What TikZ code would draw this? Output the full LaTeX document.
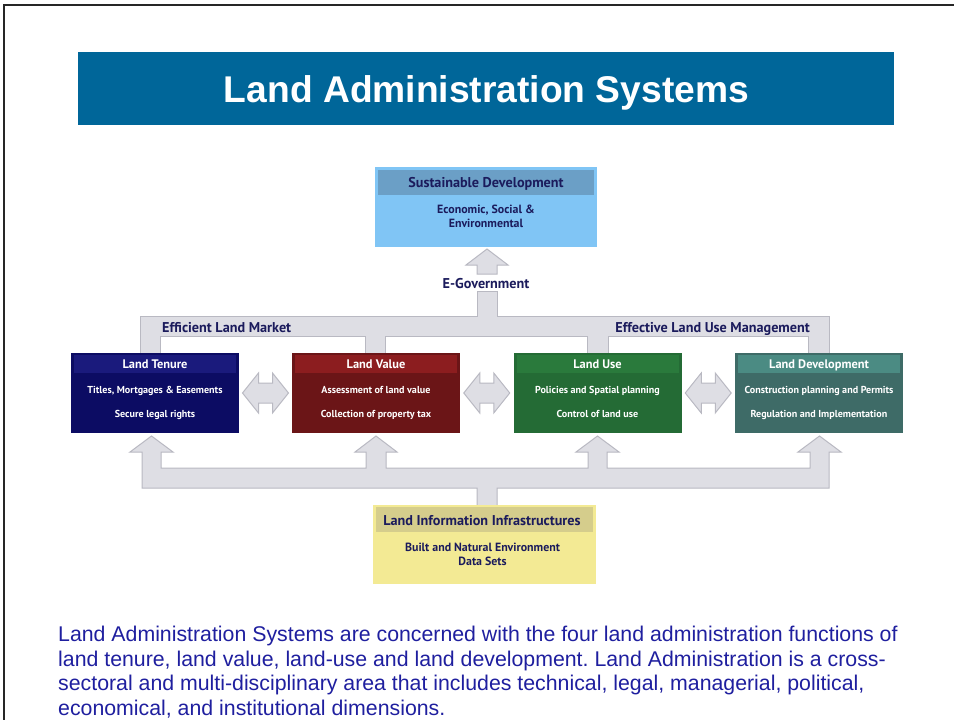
\documentclass[tikz,border=0pt]{standalone}
\usepackage{fontspec}
\setmainfont{Liberation Sans}
\newfontfamily\ptsans{PT Sans}
\usetikzlibrary{calc}
\definecolor{titleblue}{HTML}{006699}
\definecolor{ltbody}{HTML}{0C0C63}
\definecolor{lthead}{HTML}{1A1A7C}
\definecolor{lvbody}{HTML}{6B1517}
\definecolor{lvhead}{HTML}{8C1D1F}
\definecolor{lubody}{HTML}{246B35}
\definecolor{luhead}{HTML}{2A7A3C}
\definecolor{ldbody}{HTML}{3E6B67}
\definecolor{ldhead}{HTML}{4B8B83}
\definecolor{sdbody}{HTML}{80C5F5}
\definecolor{sdhead}{HTML}{6B9FC6}
\definecolor{liibody}{HTML}{F3EA94}
\definecolor{liihead}{HTML}{D5CD8C}
\definecolor{arrfill}{HTML}{DEDEE4}
\definecolor{arrline}{HTML}{B9B9C2}
\definecolor{navytext}{HTML}{1B1B5C}
\definecolor{paratext}{HTML}{1F1F9F}
\tikzset{
  grayarr/.style={fill=arrfill, draw=arrline, line width=1pt, line join=miter},
  boxbody/.style={inner sep=0pt, outer sep=0pt, minimum width=168pt, minimum height=80pt},
  hdrband/.style={inner sep=0pt, outer sep=0pt, minimum width=162pt, minimum height=18pt},
  hdrtext/.style={inner sep=0pt, text=white, font=\ptsans\bfseries\fontsize{12.4}{14}\selectfont},
  bodytext/.style={inner sep=0pt, text=white, font=\ptsans\bfseries\fontsize{10.1}{12}\selectfont},
  navylabel/.style={inner sep=0pt, text=navytext, font=\ptsans\bfseries\fontsize{14.2}{16}\selectfont},
  navysmall/.style={inner sep=0pt, text=navytext, font=\ptsans\bfseries\fontsize{11.9}{14}\selectfont, align=center},
  dblarr/.pic={\draw[grayarr] (-23,0) -- (-7,-20) -- (-7,-10) -- (7,-10) -- (7,-20) -- (23,0) -- (7,20) -- (7,10) -- (-7,10) -- (-7,20) -- cycle;}
}
\newcommand\landbox[7]{%
  \node[boxbody, fill=#3] (#1) at (#2,393) {};
  \node[hdrband, fill=#4] (#1h) at ($(#1.north)+(0,11)$) {};
  \node[hdrtext, anchor=base] (#1t) at ($(#1.north)+(0,15.5)$) {#5};
  \node[bodytext, anchor=base] (#1a) at ($(#1.north)+(0,40.5)$) {#6};
  \node[bodytext, anchor=base] (#1b) at ($(#1.north)+(0,64)$) {#7};
}
\begin{document}
\frenchspacing
\begin{tikzpicture}[x=1pt, y=-1pt]
\useasboundingbox (0,0) rectangle (954,720);
\fill[white] (0,0) rectangle (954,720);
% slide frame
\draw[line width=2pt, black!85] (4,720) -- (4,5) -- (954,5);
% title bar
\node[fill=titleblue, minimum width=816pt, minimum height=73pt, inner sep=0pt] (title) at (486,88.5) {};
\node[anchor=base, inner sep=0pt, text=white, font=\bfseries\fontsize{37.2}{40}\selectfont] (titletxt) at (486.5,102) {Land Administration Systems};

% top comb (towards E-Government)
\draw[grayarr] (477,291) -- (497,291) -- (497,316) -- (829,316) -- (829,355) -- (808,355) -- (808,336)
  -- (608,336) -- (608,355) -- (587,355) -- (587,336) -- (385,336) -- (385,355) -- (365,355) -- (365,336)
  -- (160,336) -- (160,355) -- (140,355) -- (140,316) -- (477,316) -- cycle;
% E-Government arrow head
\draw[grayarr] (477,274) -- (477,265) -- (466,265) -- (487,249) -- (508,265) -- (497,265) -- (497,274) -- cycle;
% bottom comb (from Land Information Infrastructures)
\draw[grayarr] (142,488) -- (142,452) -- (130,452) -- (151.5,436) -- (173,452) -- (161,452) -- (161,468)
  -- (366,468) -- (366,452) -- (355,452) -- (376,436) -- (397,452) -- (386,452) -- (386,468)
  -- (588,468) -- (588,452) -- (576,452) -- (597.5,436) -- (619,452) -- (607,452) -- (607,468)
  -- (810,468) -- (810,452) -- (798,452) -- (819.5,436) -- (841,452) -- (829,452) -- (829,488)
  -- (497,488) -- (497,507) -- (477,507) -- (477,488) -- cycle;

% Sustainable Development
\node[fill=sdbody, inner sep=0pt, minimum width=222pt, minimum height=80pt] (sd) at (486,207) {};
\node[fill=sdhead, inner sep=0pt, minimum width=216pt, minimum height=25pt] (sdh) at (486,182) {};
\node[navylabel, anchor=base] (sdt) at (486,187.5) {Sustainable Development};
\node[navysmall, anchor=base] (sda) at (486,213) {Economic, Social \&};
\node[navysmall, anchor=base] (sdb) at (486,227) {Environmental};

% labels on the gray paths
\node[navylabel, anchor=base] (egov) at (486,288) {E-Government};
\node[navylabel, anchor=base west] (elm) at (162,332) {Efficient Land Market};
\node[navylabel, anchor=base east] (elum) at (810,332) {Effective Land Use Management};

% four function boxes
\landbox{lt}{155}{ltbody}{lthead}{Land Tenure}{Titles, Mortgages \& Easements}{Secure legal rights}
\landbox{lv}{376}{lvbody}{lvhead}{Land Value}{Assessment of land value}{Collection of property tax}
\landbox{lu}{597.5}{lubody}{luhead}{Land Use}{Policies and Spatial planning}{Control of land use}
\landbox{ld}{819}{ldbody}{ldhead}{Land Development}{Construction planning and Permits}{Regulation and Implementation}

% double arrows between boxes
\pic at ($(lt.east)!0.5!(lv.west)$) {dblarr};
\pic at ($(lv.east)!0.5!(lu.west)$) {dblarr};
\pic at ($(lu.east)!0.5!(ld.west)$) {dblarr};

% Land Information Infrastructures
\node[fill=liibody, inner sep=0pt, minimum width=223pt, minimum height=79pt] (lii) at (484.5,544.5) {};
\node[fill=liihead, inner sep=0pt, minimum width=217pt, minimum height=25pt] (liih) at (484.5,519.5) {};
\node[navylabel, anchor=base] (liit) at (482,525) {Land Information Infrastructures};
\node[navysmall, anchor=base] (liia) at (482.5,551) {Built and Natural Environment};
\node[navysmall, anchor=base] (liib) at (482.5,565) {Data Sets};

% paragraph
\node[anchor=north west, inner sep=0pt, align=left, text=paratext, font=\fontsize{21.3}{24.5}\selectfont] (para) at (58,626)
 {Land Administration Systems are concerned with the four land administration functions of\\
  land tenure, land value, land-use and land development. Land Administration is a cross-\\
  sectoral and multi-disciplinary area that includes technical, legal, managerial, political,\\
  economical, and institutional dimensions.};
\end{tikzpicture}
\end{document}
